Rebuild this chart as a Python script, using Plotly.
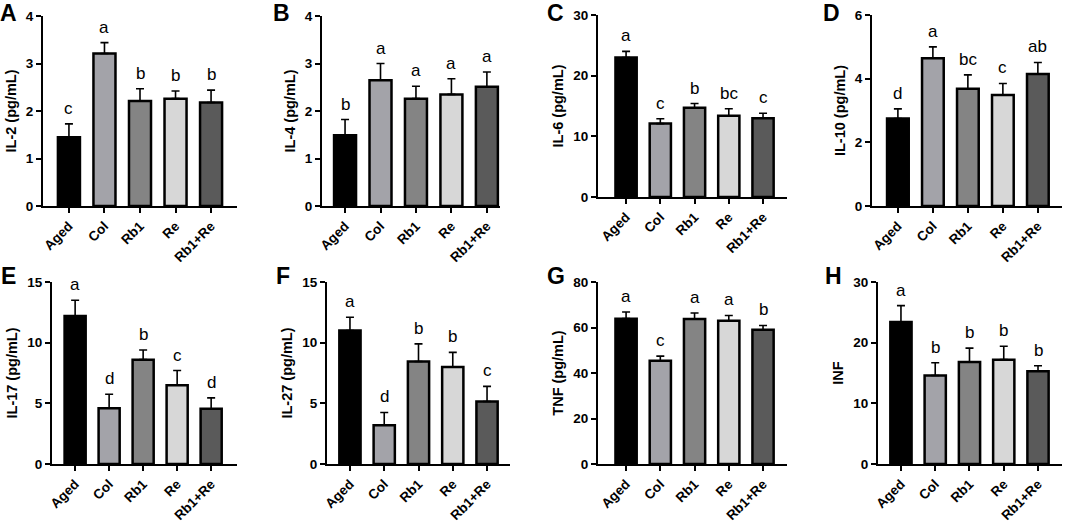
import plotly.graph_objects as go
from plotly.subplots import make_subplots

W, H = 1065, 524

groups = ["Aged", "Col", "Rb1", "Re", "Rb1+Re"]
bar_colors = ["#000000", "#a3a3a9", "#848484", "#d7d7d7", "#5a5a5a"]

il2_mean = [1.45, 3.21, 2.21, 2.26, 2.18]
il2_sd = [0.28, 0.23, 0.26, 0.16, 0.26]
il2_letters = ["c", "a", "b", "b", "b"]

il4_mean = [1.49, 2.65, 2.26, 2.35, 2.51]
il4_sd = [0.33, 0.35, 0.26, 0.33, 0.31]
il4_letters = ["b", "a", "a", "a", "a"]

il6_mean = [23.0, 12.1, 14.7, 13.4, 13.0]
il6_sd = [1.0, 0.8, 0.7, 1.15, 0.8]
il6_letters = ["a", "c", "b", "bc", "c"]

il10_mean = [2.75, 4.64, 3.68, 3.49, 4.15]
il10_sd = [0.3, 0.36, 0.44, 0.36, 0.36]
il10_letters = ["d", "a", "bc", "c", "ab"]

il17_mean = [12.2, 4.6, 8.6, 6.5, 4.55]
il17_sd = [1.3, 1.15, 0.8, 1.2, 0.9]
il17_letters = ["a", "d", "b", "c", "d"]

il27_mean = [11.0, 3.2, 8.45, 8.0, 5.15]
il27_sd = [1.1, 1.05, 1.45, 1.2, 1.25]
il27_letters = ["a", "d", "b", "b", "c"]

tnf_mean = [63.9, 45.4, 63.7, 63.0, 59.0]
tnf_sd = [2.9, 2.0, 2.7, 2.3, 1.9]
tnf_letters = ["a", "c", "a", "a", "b"]

inf_mean = [23.4, 14.6, 16.8, 17.2, 15.3]
inf_sd = [2.7, 2.1, 2.3, 2.2, 0.9]
inf_letters = ["a", "b", "b", "b", "b"]

# panel letter, y title, data, y max, y step
panels = [
    ("A", "IL-2 (pg/mL)", il2_mean, il2_sd, il2_letters, 4, 1),
    ("B", "IL-4 (pg/mL)", il4_mean, il4_sd, il4_letters, 4, 1),
    ("C", "IL-6 (pg/mL)", il6_mean, il6_sd, il6_letters, 30, 10),
    ("D", "IL-10 (pg/mL)", il10_mean, il10_sd, il10_letters, 6, 2),
    ("E", "IL-17 (pg/mL)", il17_mean, il17_sd, il17_letters, 15, 5),
    ("F", "IL-27 (pg/mL)", il27_mean, il27_sd, il27_letters, 15, 5),
    ("G", "TNF (pg/mL)", tnf_mean, tnf_sd, tnf_letters, 80, 20),
    ("H", "INF", inf_mean, inf_sd, inf_letters, 30, 10),
]

# pixel boxes: x0, x1, ytop, ybottom, x range, letter position
boxes = [
    (43, 237, 16, 206, (-0.73, 4.73), (9, 13)),
    (322, 500, 16, 206, (-0.65, 4.37), (281, 13)),
    (598, 787, 15, 197, (-0.82, 4.70), (555, 13)),
    (872, 1062, 15, 206, (-0.74, 4.69), (831, 13)),
    (52, 237, 282, 464, (-0.68, 4.76), (8, 276)),
    (327, 510, 282, 464, (-0.67, 4.67), (283, 276)),
    (598, 787, 282, 464, (-0.82, 4.70), (556, 276)),
    (878, 1062, 282, 464, (-0.67, 4.70), (833, 276)),
]

font = "Liberation Sans, Arial, sans-serif"

fig = make_subplots(rows=2, cols=4)
annotations = []

for k, (panel, title, mean, sd, letters, ymax, step) in enumerate(panels):
    row, col = k // 4 + 1, k % 4 + 1
    x0, x1, yt, yb, xr, (lx, ly) = boxes[k]
    xs = list(range(len(groups)))
    fig.add_trace(go.Bar(
        x=xs, y=mean, width=0.62,
        marker=dict(color=bar_colors, line=dict(color="black", width=2.5)),
        error_y=dict(type="data", array=sd, arrayminus=[0] * len(sd),
                     symmetric=False, color="black", thickness=1.6, width=4),
        showlegend=False, hoverinfo="skip",
    ), row=row, col=col)
    n = "" if k == 0 else str(k + 1)
    fig.update_layout({
        "xaxis" + n: dict(
            domain=[x0 / W, x1 / W], range=list(xr), automargin=False,
            tickvals=xs, ticktext=groups, tickangle=-45,
            showline=True, linecolor="black", linewidth=2,
            ticks="outside", ticklen=5, tickwidth=1.5, tickcolor="black",
            showgrid=False, zeroline=False,
            tickfont=dict(family=font, size=13.5, color="black", weight="bold"),
        ),
        "yaxis" + n: dict(
            domain=[1 - yb / H, 1 - yt / H], range=[0, ymax], automargin=False,
            tickvals=list(range(0, ymax + 1, step)),
            showline=True, linecolor="black", linewidth=2,
            ticks="outside", ticklen=5, tickwidth=1.5, tickcolor="black",
            showgrid=False, zeroline=False,
            tickfont=dict(family=font, size=13.5, color="black", weight="bold"),
            title=dict(text=title, standoff=6,
                       font=dict(family=font, size=14.5, color="black", weight="bold")),
        ),
    })
    for i, letter in enumerate(letters):
        annotations.append(dict(
            x=i, y=mean[i] + sd[i], xref="x" + n, yref="y" + n,
            text=letter, showarrow=False, yanchor="bottom", yshift=4,
            font=dict(family=font, size=17, color="black"),
        ))
    annotations.append(dict(
        x=lx / W, y=1 - ly / H, xref="paper", yref="paper",
        text="<b>" + panel + "</b>", showarrow=False,
        xanchor="center", yanchor="middle",
        font=dict(family=font, size=23, color="black"),
    ))

fig.update_layout(
    width=W, height=H,
    margin=dict(l=0, r=0, t=0, b=0),
    plot_bgcolor="white", paper_bgcolor="white",
    annotations=annotations,
)

# the page body has a default 8px margin; drop it so the figure sits at 0,0
fig.write_html("out.html", config={"displayModeBar": False},
               post_script="document.body.style.margin='0';")
